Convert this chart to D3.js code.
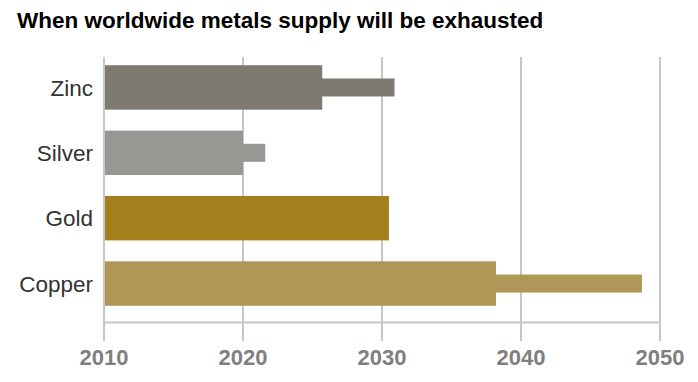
<!DOCTYPE html>
<html>
<head>
<meta charset="utf-8">
<script src="https://cdn.jsdelivr.net/npm/d3@7"></script>
<style>
  body { margin: 0; background: #fff; }
  svg { display: block; font-family: "Liberation Sans", Arial, Helvetica, sans-serif; }
</style>
</head>
<body>
<div id="chart"></div>
<script>
// metals and the years their supply runs out (main bar + extended estimate)
const metals = ["Zinc", "Silver", "Gold", "Copper"];
const mainYear = [2025.7, 2020.0, 2030.5, 2038.2];
const extYear = [2030.9, 2021.6, null, 2048.7];
const colors = ["#7e7a6f", "#979893", "#a47f1b", "#b09657"];
const tickYears = [2010, 2020, 2030, 2040, 2050];

const w = 698, h = 382;

const svg = d3.select("#chart")
  .append("svg")
  .attr("width", w)
  .attr("height", h);

const x = d3.scaleLinear().domain([2010, 2050]).range([104, 660]);
const y = d3.scaleBand().domain(metals).range([60, 311])
  .paddingInner(0.32).paddingOuter(0.08);

const gridTop = 57, axisY = 322.5, gridBottom = 341;

// title
svg.append("text")
  .attr("x", 17)
  .attr("y", 28)
  .style("font-size", "22.5px")
  .style("font-weight", "bold")
  .attr("fill", "#000")
  .text("When worldwide metals supply will be exhausted");

// vertical grid lines
svg.selectAll("line.grid")
  .data(tickYears)
  .enter().append("line")
  .attr("class", "grid")
  .attr("x1", d => x(d)).attr("x2", d => x(d))
  .attr("y1", gridTop).attr("y2", gridBottom)
  .attr("stroke", "#c6c6c6")
  .attr("stroke-width", 2);

// horizontal axis line
svg.append("line")
  .attr("x1", x(2010)).attr("x2", x(2050))
  .attr("y1", axisY).attr("y2", axisY)
  .attr("stroke", "#c6c6c6")
  .attr("stroke-width", 2);

// x tick labels
svg.selectAll("text.tick")
  .data(tickYears)
  .enter().append("text")
  .attr("class", "tick")
  .attr("x", d => x(d))
  .attr("y", 365)
  .attr("text-anchor", "middle")
  .style("font-size", "22px")
  .style("font-weight", "bold")
  .attr("fill", "#7f7f7f")
  .text(d => d);

const bars = svg.selectAll("g.metal")
  .data(metals)
  .enter().append("g")
  .attr("class", "metal");

// thin extension bars first, main bars on top
bars.filter((d, i) => extYear[i] != null)
  .append("rect")
  .attr("x", x(2010))
  .attr("y", d => y(d) + (y.bandwidth() - 18) / 2)
  .attr("width", d => x(extYear[metals.indexOf(d)]) - x(2010))
  .attr("height", 18)
  .attr("fill", d => colors[metals.indexOf(d)]);

bars.append("rect")
  .attr("x", x(2010))
  .attr("y", d => y(d))
  .attr("width", (d, i) => x(mainYear[i]) - x(2010))
  .attr("height", y.bandwidth())
  .attr("fill", (d, i) => colors[i]);

// left axis line drawn over bars
svg.append("line")
  .attr("x1", x(2010)).attr("x2", x(2010))
  .attr("y1", gridTop).attr("y2", gridBottom)
  .attr("stroke", "#c6c6c6")
  .attr("stroke-width", 2);

// category labels
svg.selectAll("text.cat")
  .data(metals)
  .enter().append("text")
  .attr("class", "cat")
  .attr("x", 93)
  .attr("y", d => y(d) + y.bandwidth() / 2)
  .attr("dy", "0.36em")
  .attr("text-anchor", "end")
  .style("font-size", "22.5px")
  .attr("fill", "#333")
  .text(d => d);
</script>
</body>
</html>
